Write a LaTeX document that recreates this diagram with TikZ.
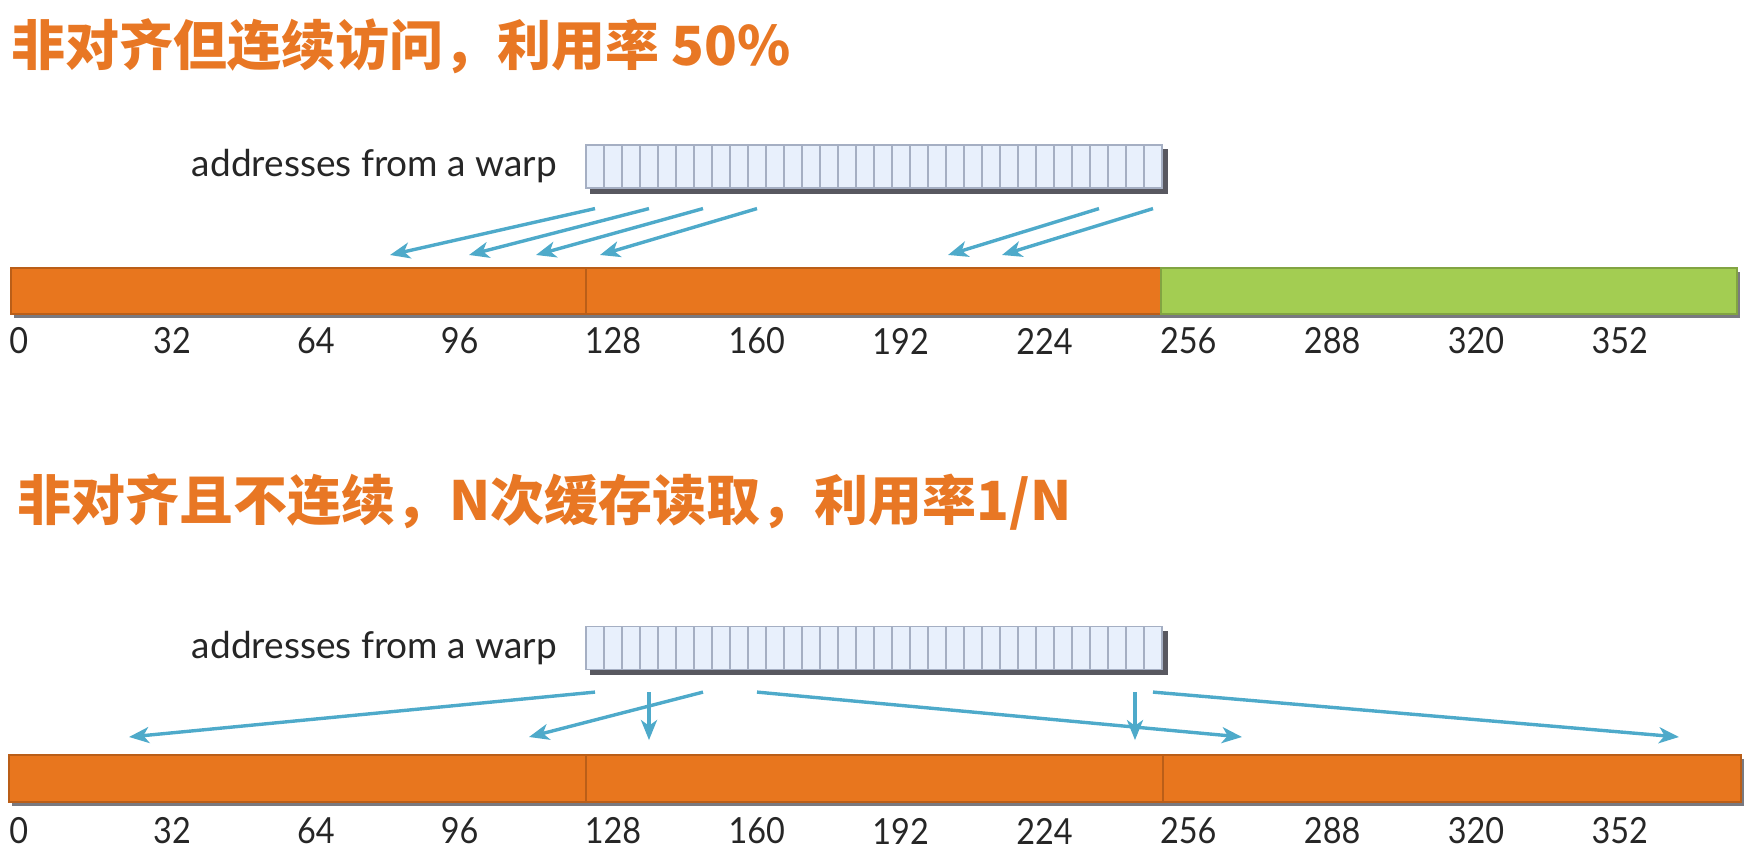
\documentclass[tikz,border=0pt]{standalone}
\usepackage{fontspec}
\newfontfamily\cjkfont{Noto Sans CJK SC Black}
\newfontfamily\lblfont{Lato}
\newfontfamily\numfont{Lato}[FakeStretch=0.9]
\usetikzlibrary{arrows.meta,positioning,backgrounds}
\definecolor{titleorange}{RGB}{232,119,36}
\definecolor{barorange}{RGB}{232,118,30}
\definecolor{bargreen}{RGB}{163,205,82}
\definecolor{cellfill}{RGB}{232,240,252}
\definecolor{cellline}{RGB}{165,175,195}
\definecolor{addrblue}{RGB}{78,170,202}
\definecolor{shadowgray}{RGB}{88,88,96}

\begin{document}
\begin{tikzpicture}[x=0.5pt, y=-0.5pt, >={Stealth[length=10pt,width=8pt,inset=2.8pt]},
  title/.style={anchor=base west, inner sep=0pt, text=titleorange, font=\cjkfont\fontsize{27pt}{30pt}\selectfont},
  lbl/.style={inner sep=0pt, font=\lblfont\fontsize{18.5pt}{22pt}\selectfont, text=black!85},
  num/.style={anchor=west, inner sep=0pt, font=\numfont\fontsize{18pt}{20pt}\selectfont, text=black!85},
  cell/.style={draw=cellline, fill=cellfill, line width=0.6pt, minimum width=9pt, minimum height=21.5pt, inner sep=0pt},
  seg/.style={fill=#1, draw=#1!80!black, line width=0.6pt},
  addr/.style={->, draw=addrblue, line width=1.7pt}]
\useasboundingbox (0,0) rectangle (1752,860);

% case 1: misaligned, sequential
\node[title] (titleA) at (11,66) {非对齐但连续访问，利用率 50\%};
\foreach \i in {1,...,32}
  \node[cell] (a\i) at ({586+18*(\i-0.5)},166.5) {};
\begin{scope}[on background layer]
  \fill[shadowgray] ([shift={(2.5pt,-2.5pt)}]a1.south west) rectangle ([shift={(2.5pt,-2.5pt)}]a32.north east);
\end{scope}
\node[lbl, left=14pt of a1] (lblA) {addresses from a warp};

\fill[shadowgray!80] (14,272) rectangle (1740,318);
\path[seg=barorange] (11,268) rectangle (586,314);
\path[seg=barorange] (586,268) rectangle (1161,314);
\path[seg=bargreen] (1161,268) rectangle (1737,314);
\foreach \a in {0,32,...,352}
  \node[num] (nA\a) at ({9+4.495*\a},341) {\a};

\foreach \s/\e in {1/390, 4/469, 7/536, 10/600, 29/948, 32/1002} {
  \coordinate (eA\s) at (\e,255);
  \draw[addr] ([yshift=-10pt]a\s.south) -- (eA\s);
}

% case 2: misaligned, scattered
\node[title] (titleB) at (17,521) {非对齐且不连续，N次缓存读取，利用率1/N};
\foreach \i in {1,...,32}
  \node[cell] (b\i) at ({586+18*(\i-0.5)},648) {};
\begin{scope}[on background layer]
  \fill[shadowgray] ([shift={(2.5pt,-2.5pt)}]b1.south west) rectangle ([shift={(2.5pt,-2.5pt)}]b32.north east);
\end{scope}
\node[lbl, left=14pt of b1] (lblB) {addresses from a warp};

\fill[shadowgray!80] (12,759) rectangle (1744,806);
\path[seg=barorange] (9,755) rectangle (586,802);
\path[seg=barorange] (586,755) rectangle (1163,802);
\path[seg=barorange] (1163,755) rectangle (1741,802);
\foreach \a in {0,32,...,352}
  \node[num] (nB\a) at ({9+4.495*\a},831) {\a};

\foreach \s/\e in {1/129, 7/529, 10/1242, 32/1679} {
  \coordinate (eB\s) at (\e,737);
  \draw[addr] ([yshift=-11pt]b\s.south) -- (eB\s);
}
\foreach \s in {4,31} {
  \coordinate (eB\s) at ([yshift=-35pt]b\s.south);
  \draw[addr] ([yshift=-11pt]b\s.south) -- (eB\s);
}
\end{tikzpicture}
\end{document}
